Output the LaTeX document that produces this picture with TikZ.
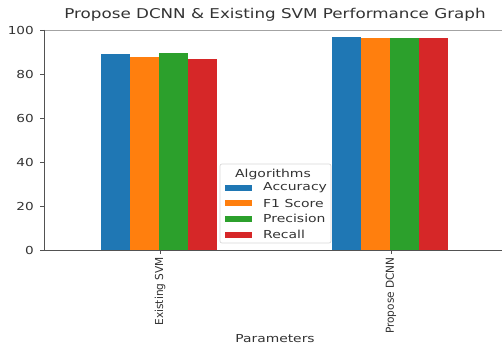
\documentclass[tikz,border=0pt]{standalone}
\usepackage{fontspec}
\setmainfont{DejaVu Sans}
\usetikzlibrary{positioning}
\definecolor{tabblue}{HTML}{1F77B4}
\definecolor{taborange}{HTML}{FF7F0E}
\definecolor{tabgreen}{HTML}{2CA02C}
\definecolor{tabred}{HTML}{D62728}
\definecolor{inkgray}{HTML}{333333}
\newcommand{\wide}[2]{\scalebox{#1}[1]{#2}}
\begin{document}
\begin{tikzpicture}[x=1pt,y=-1pt,
  spine/.style={draw=inkgray!85,line width=1pt},
  ticklbl/.style={font=\fontsize{11}{11}\selectfont,text=inkgray,inner sep=0pt},
  swatch/.style={minimum width=27pt,minimum height=6pt,inner sep=0pt,draw=none},
  legtext/.style={font=\fontsize{11}{11}\selectfont,text=inkgray,anchor=west,inner sep=0pt}]
\useasboundingbox (0,0) rectangle (502,347);
\fill[white] (0,0) rectangle (502,347);

% title
\node[font=\fontsize{13.5}{13.5}\selectfont,text=inkgray,inner sep=0pt] (title) at (275,15)
  {\wide{1.24}{Propose DCNN \& Existing SVM Performance Graph}};

% bars: value v is drawn from y=250 (0) up to 250-2.2v
\foreach \x/\v/\c in {101/88.9/tabblue,130/87.9/taborange,159/89.4/tabgreen,188/86.9/tabred,
                      332/96.7/tabblue,361/96.2/taborange,390/96.2/tabgreen,419/96.2/tabred}
  \fill[\c] (\x,250) rectangle ({\x+29},{250-2.2*\v});

% axes frame
\draw[draw=inkgray!45,line width=0.8pt] (44,30) -- (502,30);
\draw[spine] (44,30) -- (44,250) -- (502,250);

% y ticks
\foreach \v in {0,20,...,100} {
  \draw[inkgray!85,line width=0.8pt] (40,{250-2.2*\v}) -- (44,{250-2.2*\v});
  \node[ticklbl,anchor=east] at (34,{250-2.2*\v}) {\wide{1.24}{\v}};
}

% x ticks and category labels
\draw[inkgray!85,line width=0.8pt] (160,250) -- (160,254);
\draw[inkgray!85,line width=0.8pt] (391,250) -- (391,254);
\node[ticklbl,rotate=90,anchor=east] (svm) at (160,257) {\scalebox{0.96}[1]{Existing SVM}};
\node[ticklbl,rotate=90,anchor=east] (dcnn) at (391,257) {\scalebox{0.96}[1]{Propose DCNN}};
\node[ticklbl] (xlabel) at (275,339) {\wide{1.26}{Parameters}};

% legend
\draw[draw=black!15,fill=white,fill opacity=0.85,rounded corners=2pt,line width=0.7pt]
  (220,164) rectangle (331,243);
\node[legtext,anchor=center] (legtitle) at (273,174) {\wide{1.27}{Algorithms}};
\node[swatch,fill=tabblue] (sw1) at (238,188) {};
\node[swatch,fill=taborange] (sw2) at (238,203) {};
\node[swatch,fill=tabgreen] (sw3) at (238,218.5) {};
\node[swatch,fill=tabred] (sw4) at (238,234.5) {};
\node[legtext] (lt1) at (263,188) {\wide{1.27}{Accuracy}};
\node[legtext] (lt2) at (263,203) {\wide{1.27}{F1 Score}};
\node[legtext] (lt3) at (263,218.5) {\wide{1.27}{Precision}};
\node[legtext] (lt4) at (263,234.5) {\wide{1.27}{Recall}};
\end{tikzpicture}
\end{document}
